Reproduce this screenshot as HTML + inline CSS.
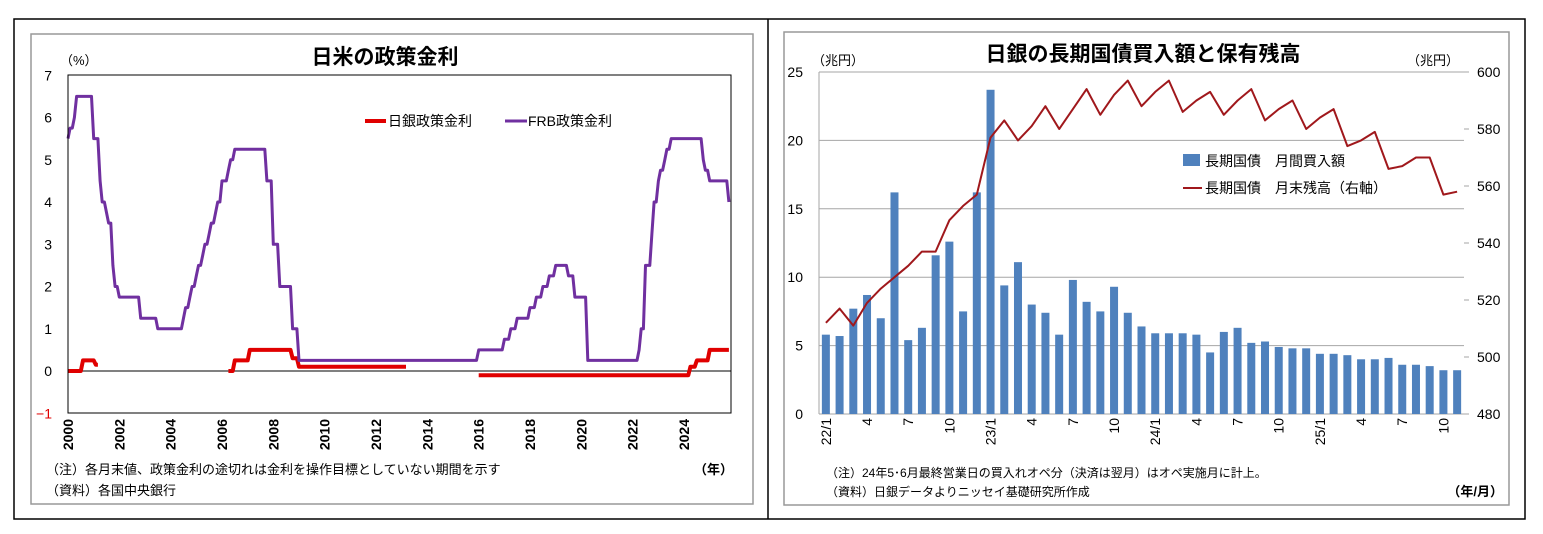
<!DOCTYPE html>
<html><head><meta charset="utf-8">
<style>
html,body{margin:0;padding:0;background:#fff;}
svg{display:block;font-family:"Liberation Sans","Noto Sans CJK JP",sans-serif;}
</style></head>
<body>
<svg id="root" width="1543" height="534" viewBox="0 0 1543 534" xmlns="http://www.w3.org/2000/svg">
  <!-- outer frames -->
  <rect x="14" y="19" width="1511" height="500" fill="none" stroke="#000" stroke-width="1.5"/>
  <line x1="768" y1="19" x2="768" y2="519" stroke="#000" stroke-width="1.5"/>
  <rect x="31" y="34" width="722" height="470" fill="none" stroke="#999" stroke-width="1.5"/>
  <rect x="784" y="32" width="725" height="473" fill="none" stroke="#999" stroke-width="1.5"/>

  <!-- LEFT CHART -->
  <g id="left">
    <text x="385" y="64" font-size="21" font-weight="bold" text-anchor="middle">日米の政策金利</text>
    <text x="60" y="65" font-size="13">（%）</text>
    <g id="lGrid"></g>
    <g id="lSeries"></g>
    <rect x="68" y="75" width="663" height="338" fill="none" stroke="#000" stroke-width="1"/>
    <g id="lTicks"></g>
    <g>
      <line x1="365" y1="121" x2="386" y2="121" stroke="#E00000" stroke-width="4"/>
      <text x="388" y="126" font-size="14">日銀政策金利</text>
      <line x1="505" y1="121" x2="527" y2="121" stroke="#7030A0" stroke-width="3"/>
      <text x="528" y="126" font-size="14">FRB政策金利</text>
    </g>
    <text x="46" y="474" font-size="13">（注）各月末値、政策金利の途切れは金利を操作目標としていない期間を示す</text>
    <text x="46" y="495" font-size="13">（資料）各国中央銀行</text>
    <text x="733" y="474" font-size="13" font-weight="bold" text-anchor="end">（年）</text>
  </g>

  <!-- RIGHT CHART -->
  <g id="right">
    <text x="1143" y="61" font-size="21" font-weight="bold" text-anchor="middle">日銀の長期国債買入額と保有残高</text>
    <text x="812" y="65" font-size="13">（兆円）</text>
    <text x="1407" y="65" font-size="13">（兆円）</text>
    <g id="rGrid"></g>
    <g id="rBars"></g>
    <g id="rLine"></g>
    <g id="rTicks"></g>
    <g>
      <rect x="1183" y="154" width="17" height="12" fill="#4F81BD"/>
      <text x="1205" y="166" font-size="14">長期国債　月間買入額</text>
      <line x1="1183" y1="188" x2="1202" y2="188" stroke="#A0181C" stroke-width="2"/>
      <text x="1205" y="193" font-size="14">長期国債　月末残高（右軸）</text>
    </g>
    <text x="826" y="477" font-size="12">（注）24年5･6月最終営業日の買入れオペ分（決済は翌月）はオペ実施月に計上。</text>
    <text x="826" y="496" font-size="12">（資料）日銀データよりニッセイ基礎研究所作成</text>
    <text x="1503" y="496" font-size="13" font-weight="bold" text-anchor="end">（年/月）</text>
  </g>
</svg>
<script>
// ---------- LEFT CHART DATA ----------
const frbChangeDates = [2000.0,2000.08,2000.17,2000.33,2001.0,2001.17,2001.25,2001.33,2001.42,2001.58,2001.67,2001.75,2001.83,2001.92,2002.83,2003.42,2004.42,2004.58,2004.67,2004.83,2004.92,2005.08,2005.17,2005.33,2005.42,2005.58,2005.67,2005.83,2005.92,2006.0,2006.17,2006.33,2006.42,2007.67,2007.75,2007.92,2008.0,2008.17,2008.25,2008.75,2008.92,2015.92,2016.92,2017.17,2017.42,2017.92,2018.17,2018.42,2018.67,2018.92,2019.5,2019.67,2019.75,2020.17,2022.17,2022.33,2022.42,2022.5,2022.67,2022.83,2022.92,2023.08,2023.17,2023.33,2023.5,2024.67,2024.83,2024.92,2025.67,2025.75];
const frbRates = [5.5,5.75,6.0,6.5,5.5,5.0,4.5,4.0,3.75,3.5,3.0,2.5,2.0,1.75,1.25,1.0,1.25,1.5,1.75,2.0,2.25,2.5,2.75,3.0,3.25,3.5,3.75,4.0,4.25,4.5,4.75,5.0,5.25,4.75,4.5,4.25,3.0,2.25,2.0,1.0,0.25,0.5,0.75,1.0,1.25,1.5,1.75,2.0,2.25,2.5,2.25,2.0,1.75,0.25,0.5,1.0,1.75,2.5,3.25,4.0,4.5,4.75,5.0,5.25,5.5,5.0,4.75,4.5,4.25,4.0];
const bojSegStart = [2000.0, 2006.25, 2016.0];
const bojSegEnd = [2001.17, 2013.17, 2025.75];
const bojChangeDates = [2000.0,2000.58,2001.08,2006.25,2006.5,2007.08,2008.75,2008.92,2016.0,2024.17,2024.5,2025.0];
const bojRates = [0.0,0.25,0.15,0.0,0.25,0.5,0.3,0.1,-0.1,0.1,0.25,0.5];
const leftYTicks = [-1,0,1,2,3,4,5,6,7];
const leftXTicks = [2000,2002,2004,2006,2008,2010,2012,2014,2016,2018,2020,2022,2024];
const leftEnd = 2025.75;

// ---------- RIGHT CHART DATA ----------
const months = ["22/1","2","3","4","5","6","7","8","9","10","11","12","23/1","2","3","4","5","6","7","8","9","10","11","12","24/1","2","3","4","5","6","7","8","9","10","11","12","25/1","2","3","4","5","6","7","8","9","10","11"];
const purchases = [5.8,5.7,7.7,8.7,7.0,16.2,5.4,6.3,11.6,12.6,7.5,16.2,23.7,9.4,11.1,8.0,7.4,5.8,9.8,8.2,7.5,9.3,7.4,6.4,5.9,5.9,5.9,5.8,4.5,6.0,6.3,5.2,5.3,4.9,4.8,4.8,4.4,4.4,4.3,4.0,4.0,4.1,3.6,3.6,3.5,3.2,3.2];
const holdings = [512,517,511,519,524,528,532,537,537,548,553,557,577,583,576,581,588,580,587,594,585,592,597,588,593,597,586,590,593,585,590,594,583,587,590,580,584,587,574,576,579,566,567,570,570,557,558];
const rightLTicks = [0,5,10,15,20,25];
const rightRTicks = [480,500,520,540,560,580,600];
const rightXLabels = ["22/1","4","7","10","23/1","4","7","10","24/1","4","7","10","25/1","4","7","10"];
const rightXLabelIdx = [0,3,6,9,12,15,18,21,24,27,30,33,36,39,42,45];

const NS = "http://www.w3.org/2000/svg";
function mk(tag, attrs, parent){ const e=document.createElementNS(NS,tag); for(const k in attrs) e.setAttribute(k,attrs[k]); parent.appendChild(e); return e; }

// ---- left axes ----
const lx = t => 68 + (t-2000)*(663/25.83);
const ly = v => 371 - v*42.25;
const lTicks = document.getElementById('lTicks');
const lGrid = document.getElementById('lGrid');
leftYTicks.forEach(v=>{
  const t = mk('text',{x:52,y:ly(v)+5,'font-size':14,'text-anchor':'end',fill:v<0?'#E00000':'#000'},lTicks);
  t.textContent = v<0 ? '−'+Math.abs(v) : String(v);
  
  
});
const zl = mk('line',{x1:68,x2:731,y1:ly(0),y2:ly(0),stroke:'#000','stroke-width':1},lGrid);


leftXTicks.forEach(y=>{
  const x = lx(y);
  const t = mk('text',{x:0,y:0,'font-size':14,'font-weight':'bold','text-anchor':'end',transform:`translate(${x+5},${419}) rotate(-90)`},lTicks);
  t.textContent = String(y);
  
  
});
function stepValue(dates, rates, t){ let v=rates[0]; for(let i=0;i<dates.length;i++){ if(dates[i]<=t+1e-6) v=rates[i]; } return v; }
const lSeries = document.getElementById('lSeries');
// BOJ segments
bojSegStart.forEach((s,i)=>{
  let pts=[];
  for(let t=s; t<=bojSegEnd[i]+1e-6; t+=1/12){ pts.push(lx(t).toFixed(1)+','+ly(stepValue(bojChangeDates,bojRates,t)).toFixed(1)); }
  const p = mk('polyline',{points:pts.join(' '),fill:'none',stroke:'#E00000','stroke-width':4,'stroke-linejoin':'round'},lSeries);
  
  
});
{
  let pts=[];
  for(let t=2000; t<=leftEnd+1e-6; t+=1/12){ pts.push(lx(t).toFixed(1)+','+ly(stepValue(frbChangeDates,frbRates,t)).toFixed(1)); }
  const p = mk('polyline',{points:pts.join(' '),fill:'none',stroke:'#7030A0','stroke-width':3,'stroke-linejoin':'round'},lSeries);
  
  
}

// ---- right axes ----
const rL=819, rR=1464, rTop=72, rBot=414;
const slot = (rR-rL)/months.length;
const rx = i => rL + slot*(i+0.5);
const ryL = v => rBot - v*(rBot-rTop)/25;
const ryR = v => rBot - (v-480)*(rBot-rTop)/120;
const rGrid=document.getElementById('rGrid'), rTicks=document.getElementById('rTicks');
rightLTicks.forEach(v=>{
  if(v>0){ const g=mk('line',{x1:rL,x2:rR,y1:ryL(v),y2:ryL(v),stroke:'#A6A6A6','stroke-width':1},rGrid);
    
     }
  const t=mk('text',{x:803,y:ryL(v)+5,'font-size':14,'text-anchor':'end'},rTicks);
  t.textContent=String(v);
  
  
});
rightRTicks.forEach(v=>{
  const tk=mk('line',{x1:rR,x2:rR+5,y1:ryR(v),y2:ryR(v),stroke:'#A6A6A6'},rGrid);
  
  
  const t=mk('text',{x:1477,y:ryR(v)+5,'font-size':14},rTicks);
  t.textContent=String(v);
  
  
});
const ax1=mk('line',{x1:rL,x2:rL,y1:rTop,y2:rBot,stroke:'#A6A6A6'},rGrid);


const ax2=mk('line',{x1:rL,x2:rR,y1:rBot,y2:rBot,stroke:'#A6A6A6'},rGrid);


const rBars=document.getElementById('rBars');
purchases.forEach((v,i)=>{
  const b=mk('rect',{x:rx(i)-4,y:ryL(v),width:8,height:rBot-ryL(v),fill:'#4F81BD'},rBars);
  
  
});
{
  const pts=holdings.map((v,i)=>rx(i).toFixed(1)+','+ryR(v).toFixed(1)).join(' ');
  const p=mk('polyline',{points:pts,fill:'none',stroke:'#A0181C','stroke-width':2,'stroke-linejoin':'round'},document.getElementById('rLine'));
  
  
}
rightXLabels.forEach((lab,k)=>{
  const x=rx(rightXLabelIdx[k]);
  const t=mk('text',{x:0,y:0,'font-size':14,'text-anchor':'end',transform:`translate(${x+5},${418}) rotate(-90)`},rTicks);
  t.textContent=lab;
  
  
});
</script>
</body></html>
